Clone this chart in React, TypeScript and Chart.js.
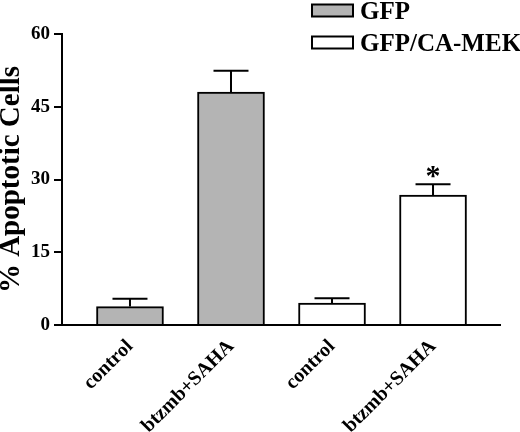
import { useEffect, useRef } from "react";
import { Chart, registerables } from "chart.js";

Chart.register(...registerables);

// groups along the x axis
const categories = ["control", "btzmb+SAHA", "control", "btzmb+SAHA"];

// GFP series (first two groups)
const gfpIndex = [0, 1];
const gfpMeans = [3.8, 48.0];
const gfpErrors = [1.6, 4.4];

// GFP/CA-MEK series (last two groups)
const mekIndex = [2, 3];
const mekMeans = [4.5, 26.8];
const mekErrors = [1.0, 2.2];

// significance marks, by category index
const starred = [3];

const FONT = "'Liberation Serif', 'Times New Roman', serif";

const errorBars = {
  id: "errorBars",
  afterDatasetsDraw(chart: any) {
    const { ctx, scales } = chart;
    ctx.save();
    ctx.strokeStyle = "#000";
    ctx.lineWidth = 2;
    chart.data.datasets.forEach((ds: any, di: number) => {
      const meta = chart.getDatasetMeta(di);
      meta.data.forEach((bar: any, i: number) => {
        const raw = ds.data[i];
        const top = scales.y.getPixelForValue(raw.y + ds.errors[i]);
        ctx.beginPath();
        ctx.moveTo(bar.x, bar.y);
        ctx.lineTo(bar.x, top);
        ctx.moveTo(bar.x - 17.5, top);
        ctx.lineTo(bar.x + 17.5, top);
        ctx.stroke();
        if (starred.includes(raw.x)) {
          ctx.fillStyle = "#000";
          ctx.font = `bold 30px ${FONT}`;
          ctx.textAlign = "center";
          ctx.textBaseline = "alphabetic";
          ctx.fillText("*", bar.x, top + 1);
        }
      });
    });
    ctx.restore();
  },
};

const boxLegend = {
  id: "boxLegend",
  afterDraw(chart: any) {
    const { ctx } = chart;
    ctx.save();
    ctx.font = `bold 25px ${FONT}`;
    ctx.textBaseline = "alphabetic";
    ctx.textAlign = "left";
    const rows = [4.5, 36.5];
    chart.data.datasets.forEach((ds: any, i: number) => {
      const y = rows[i];
      ctx.fillStyle = ds.backgroundColor;
      ctx.fillRect(312, y, 41, 12);
      ctx.strokeStyle = "#000";
      ctx.lineWidth = 2;
      ctx.strokeRect(312, y, 41, 12);
      ctx.fillStyle = "#000";
      ctx.fillText(ds.label, 360, y + 14);
    });
    ctx.restore();
  },
};

const App = () => {
  const chartRef = useRef<HTMLCanvasElement>(null);

  useEffect(() => {
    if (!chartRef.current) return;
    document.body.style.margin = "0";

    Chart.defaults.font.family = FONT;
    Chart.defaults.font.weight = "bold";
    Chart.defaults.color = "#000";

    const chart = new Chart(chartRef.current, {
      type: "bar",
      data: {
        datasets: [
          {
            label: "GFP",
            data: gfpIndex.map((x, i) => ({ x, y: gfpMeans[i] })),
            errors: gfpErrors,
            backgroundColor: "#b4b4b4",
            borderColor: "#000",
            borderWidth: 2,
          } as any,
          {
            label: "GFP/CA-MEK",
            data: mekIndex.map((x, i) => ({ x, y: mekMeans[i] })),
            errors: mekErrors,
            backgroundColor: "#ffffff",
            borderColor: "#000",
            borderWidth: 2,
          } as any,
        ],
      },
      options: {
        responsive: false,
        animation: false,
        grouped: false,
        barThickness: 67,
        layout: { padding: { top: 34, right: 20, left: 0, bottom: 0 } },
        plugins: {
          legend: { display: false },
          tooltip: { enabled: false },
        },
        scales: {
          x: {
            type: "linear",
            offset: false,
            min: -0.673,
            max: 3.663,
            grid: { display: false, drawTicks: false },
            border: { display: true, color: "#000", width: 2 },
            ticks: {
              stepSize: 1,
              includeBounds: false,
              autoSkip: false,
              maxRotation: 45,
              minRotation: 45,
              padding: 10,
              font: { size: 20, weight: "bold" },
              callback: (v: any) => categories[v] ?? "",
            },
            afterFit: (scale: any) => {
              scale.height = 107;
            },
          },
          y: {
            min: 0,
            max: 60,
            ticks: {
              stepSize: 15,
              padding: 4,
              font: { size: 19, weight: "bold" },
            },
            grid: {
              display: true,
              drawOnChartArea: false,
              drawTicks: true,
              tickLength: 8,
              color: "#000",
              lineWidth: 2,
            },
            border: { display: true, color: "#000", width: 2 },
            title: {
              display: true,
              text: "% Apoptotic Cells",
              padding: 0,
              font: { size: 29, weight: "bold", lineHeight: 0.8 },
            },
            afterFit: (scale: any) => {
              scale.width = 62;
            },
          },
        },
      } as any,
      plugins: [errorBars, boxLegend],
    });

    return () => {
      chart.destroy();
    };
  }, []);

  return <canvas ref={chartRef} width={520} height={432} />;
};

export default App;
